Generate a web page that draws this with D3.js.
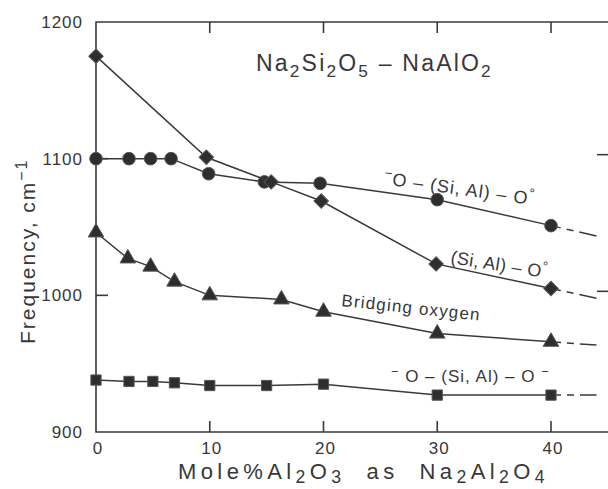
<!DOCTYPE html>
<html>
<head>
<meta charset="utf-8">
<script src="https://cdn.jsdelivr.net/npm/d3@7"></script>
<style>
  html, body { margin: 0; padding: 0; background: #fff; }
  text { font-family: "Liberation Sans", Arial, Helvetica, sans-serif; fill: #383838; }
</style>
</head>
<body>
<svg id="chart" width="608" height="489"></svg>
<script>
// Vibrational frequencies (cm^-1) vs. mole % Al2O3 (as Na2Al2O4) in Na2Si2O5–NaAlO2 glasses
const xTicks = [0, 10, 20, 30, 40];
const yTicks = [900, 1000, 1100, 1200];

// ⁻O–(Si,Al)–O°  (circles)
const nbo1X = [0, 2.9, 4.8, 6.6, 9.9, 14.8, 19.7, 30, 40];
const nbo1Y = [1100, 1100, 1100, 1100, 1089, 1083, 1082, 1070, 1051];

// (Si,Al)–O°  (diamonds)
const tetX = [0, 9.7, 15.4, 19.8, 29.9, 40];
const tetY = [1175, 1101, 1083, 1069, 1023, 1005];

// Bridging oxygen  (triangles)
const bridgeX = [0, 2.8, 4.8, 6.9, 10, 16.3, 20, 30, 40];
const bridgeY = [1046, 1027, 1021, 1010, 1000, 997, 988, 972, 966];

// ⁻O–(Si,Al)–O⁻  (squares)
const nbo2X = [0, 2.9, 5, 6.9, 10, 15, 20, 30, 40];
const nbo2Y = [938, 937, 937, 936, 934, 934, 935, 927, 927];

const series = [
  { xs: nbo1X, ys: nbo1Y, shape: d3.symbolCircle, size: 125, rot: 0 },
  { xs: tetX, ys: tetY, shape: d3.symbolSquare, size: 105, rot: 45 },
  { xs: bridgeX, ys: bridgeY, shape: d3.symbolTriangle, size: 105, rot: 0 },
  { xs: nbo2X, ys: nbo2Y, shape: d3.symbolSquare, size: 105, rot: 0 }
];

const ink = "#3a3a3a";
const svg = d3.select("#chart");

const x = d3.scaleLinear().domain([0, 40]).range([96, 551]);
const y = d3.scaleLinear().domain([900, 1200]).range([432, 22]);
const xEnd = 44;      // dashed trend continuation
const xFrameRight = 620;

// frame
const frame = svg.append("g").attr("stroke", ink).attr("stroke-width", 1.6).attr("fill", "none");
frame.append("path").attr("d", `M${xFrameRight},${y(1200)}H${x(0)}V${y(900)}H${xFrameRight}`);

// ticks: top and bottom (inward), left and right (inward)
xTicks.filter(d => d > 0).forEach(d => {
  frame.append("line").attr("x1", x(d)).attr("x2", x(d)).attr("y1", y(1200)).attr("y2", y(1200) + 11);
  frame.append("line").attr("x1", x(d)).attr("x2", x(d)).attr("y1", y(900)).attr("y2", y(900) - 11);
});
[1000, 1100].forEach(v => {
  frame.append("line").attr("x1", x(0)).attr("x2", x(0) + 12).attr("y1", y(v)).attr("y2", y(v));
  frame.append("line").attr("x1", 597).attr("x2", xFrameRight).attr("y1", y(v) - 4).attr("y2", y(v) - 4);
});

// tick labels
svg.append("g").selectAll("text").data(xTicks).join("text")
  .attr("x", d => x(d) + 2).attr("y", 454)
  .attr("text-anchor", "middle").attr("font-size", 17).attr("letter-spacing", 1)
  .text(d => d);
svg.append("g").selectAll("text").data(yTicks).join("text")
  .attr("x", 83).attr("y", d => y(d) + 6)
  .attr("text-anchor", "end").attr("font-size", 17).attr("letter-spacing", 1)
  .text(d => d);

// rich text helper: parts = [[text, "n" | "sub" | "sup"], ...]
function rich(sel, parts, size, subScale = 0.75, subShift = 0.25) {
  let off = 0;
  parts.forEach(([t, kind]) => {
    const target = kind === "sub" ? size * subShift : kind === "sup" ? -size * 0.38 : 0;
    sel.append("tspan")
      .attr("dy", target - off)
      .attr("font-size", kind === "n" ? size : size * subScale)
      .text(t);
    off = target;
  });
  return sel;
}

// title
rich(svg.append("text").attr("x", 256).attr("y", 71).attr("letter-spacing", 2.2),
  [["Na", "n"], ["2", "sub"], ["Si", "n"], ["2", "sub"], ["O", "n"], ["5", "sub"],
   [" \u2013 NaAlO", "n"], ["2", "sub"]], 23);

// axis titles
rich(svg.append("text").attr("x", 178).attr("y", 479).attr("letter-spacing", 4.4),
  [["Mole%Al", "n"], ["2", "sub"], ["O", "n"], ["3", "sub"], ["\u00a0\u00a0as\u00a0\u00a0Na", "n"], ["2", "sub"],
   ["Al", "n"], ["2", "sub"], ["O", "n"], ["4", "sub"]], 22, 0.8, 0.18);
rich(svg.append("text").attr("transform", "translate(35,344) rotate(-90)").attr("letter-spacing", 2),
  [["Frequency, cm", "n"], ["\u22121", "sup"]], 21);

// series lines
const line = d3.line().x(d => x(d[0])).y(d => y(d[1]));
series.forEach(s => {
  const pts = s.xs.map((v, i) => [v, s.ys[i]]);
  svg.append("path").datum(pts).attr("d", line)
    .attr("fill", "none").attr("stroke", ink).attr("stroke-width", 1.5);
  // dashed continuation of the last segment's trend
  const n = pts.length;
  const slope = (pts[n - 1][1] - pts[n - 2][1]) / (pts[n - 1][0] - pts[n - 2][0]);
  const ext = [pts[n - 1], [xEnd, pts[n - 1][1] + slope * (xEnd - pts[n - 1][0])]];
  svg.append("path").datum(ext).attr("d", line)
    .attr("fill", "none").attr("stroke", ink).attr("stroke-width", 1.5)
    .attr("stroke-dasharray", "10,6,7,6,18,60");
  svg.append("g").selectAll("path").data(pts).join("path")
    .attr("transform", d => `translate(${x(d[0])},${y(d[1])}) rotate(${s.rot})`)
    .attr("d", d3.symbol().type(s.shape).size(s.size))
    .attr("fill", "#2e2e2e").attr("stroke", "#555").attr("stroke-width", 1);
});

// series annotations
rich(svg.append("text").attr("transform", "translate(383,184) rotate(8)").attr("letter-spacing", 1),
  [["\u2212", "sup"], ["O \u2013 (Si, Al) \u2013 O", "n"], ["\u00b0", "sup"]], 18);
rich(svg.append("text").attr("transform", "translate(450,263) rotate(9)").attr("letter-spacing", 0.4),
  [["(Si, Al) \u2013 O", "n"], ["\u00b0", "sup"]], 18);
svg.append("text").attr("transform", "translate(341,306) rotate(6)")
  .attr("font-size", 17).attr("letter-spacing", 1.2).text("Bridging oxygen");
rich(svg.append("text").attr("transform", "translate(391,382)").attr("letter-spacing", 1),
  [["\u2212", "sup"], [" O \u2013 (Si, Al)  \u2013 O ", "n"], ["\u2212", "sup"]], 17);
</script>
</body>
</html>
